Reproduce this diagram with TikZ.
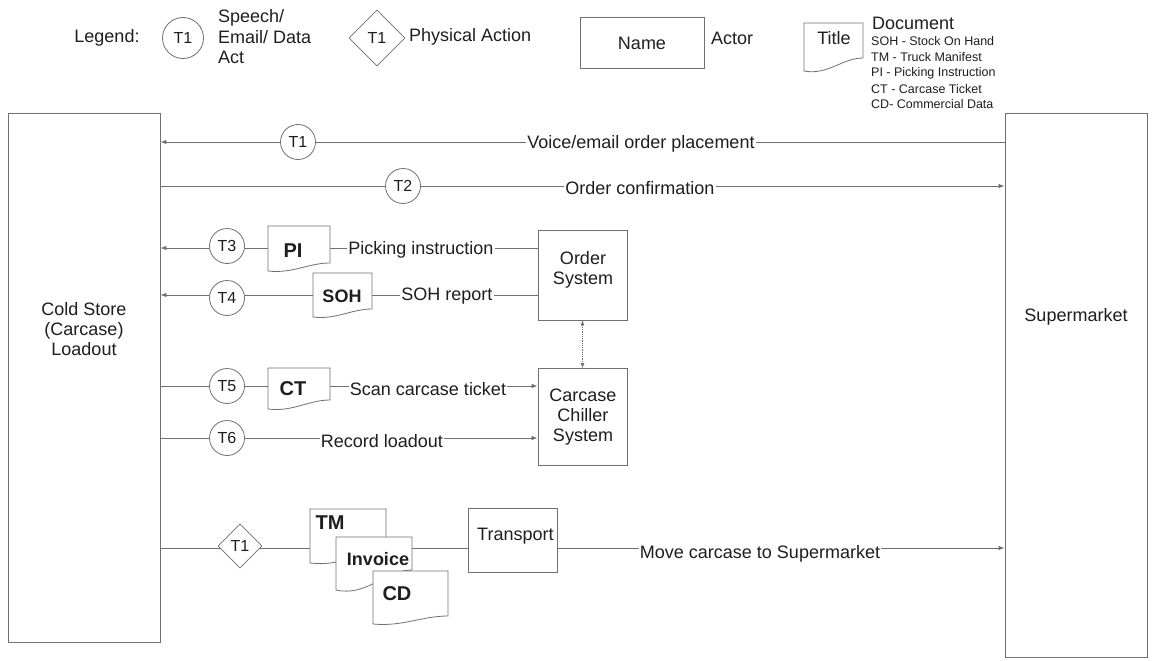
\documentclass[tikz,border=0pt]{standalone}
\usepackage{fontspec}
\setmainfont{Liberation Sans}
\usetikzlibrary{shapes.geometric,arrows.meta,calc}
\pgfdeclarelayer{background}
\pgfsetlayers{background,main}
\definecolor{ln}{HTML}{707070}
\definecolor{tx}{HTML}{1E1E1E}
\newcommand\docshape[5]{%
  \draw[docline] (#1,#2) -- (#3,#2) -- (#3,#4)
    .. controls ({#3-0.35*(#3-#1)},#4) and ({#1+0.4*(#3-#1)},{#5+0.35*(#5-#4)}) .. (#1,#5) -- cycle;}
\tikzset{
  lbl/.style={text=tx, inner sep=1pt, font=\fontsize{18}{20}\selectfont},
  onln/.style={lbl, fill=white, inner sep=1pt},
  actor/.style={draw=ln, line width=0.9pt, fill=white, inner sep=0},
  tcirc/.style={circle, draw=ln, line width=0.8pt, fill=white, minimum size=35, inner sep=0, text=tx, font=\fontsize{16}{18}\selectfont},
  tdiam/.style={diamond, aspect=1, draw=ln, line width=0.8pt, fill=white, minimum size=44, inner sep=0, text=tx, font=\fontsize{16}{18}\selectfont},
  docline/.style={draw=ln, line width=0.8pt, fill=white},
  doctext/.style={text=tx, inner sep=0, font=\fontsize{20}{22}\selectfont\bfseries},
  conn/.style={draw=ln, line width=0.8pt},
  tip/.style={-{Latex[length=6pt,width=4.5pt]}},
  small/.style={text=tx, inner sep=0, anchor=west, font=\fontsize{12.5}{14}\selectfont},
}
\begin{document}
\begin{tikzpicture}[x=1pt,y=-1pt]
\useasboundingbox (0,0) rectangle (1152,661);

% ---------- Legend ----------
\node[lbl] (leg) at (107,38) {Legend:};
\node[tcirc, minimum size=41] (lc) at (183,38) {T1};
\node[lbl, anchor=west, align=left, font=\fontsize{18}{20.5}\selectfont] (lct) at (217,37) {Speech/\\Email/ Data\\Act};
\node[tdiam, minimum size=56] (ld) at (377,38) {T1};
\node[lbl, anchor=west] (ldt) at (408,37) {Physical Action};
\node[actor, minimum width=124, minimum height=51] (lname) at (642,43) {};
\node[lbl] (lnamet) at (lname.center) {Name};
\node[lbl, anchor=west] (lactor) at (710,38) {Actor};
\docshape{804}{23}{863}{58}{71}
\node[lbl] (ltitle) at (834,38) {Title};
\node[lbl, anchor=west] (ldoc) at (871,23) {Document};
\node[small] (ls1) at (871,41) {SOH - Stock On Hand};
\node[small] (ls2) at (871,57) {TM - Truck Manifest};
\node[small] (ls3) at (871,73) {PI - Picking Instruction};
\node[small] (ls4) at (871,89) {CT - Carcase Ticket};
\node[small] (ls5) at (871,104) {CD- Commercial Data};

% ---------- Actors ----------
\node[actor, minimum width=152, minimum height=529] (cold) at (84,377.5) {};
\node[lbl, align=center] (coldt) at (84,329) {Cold Store\\(Carcase)\\Loadout};
\node[actor, minimum width=142, minimum height=544] (sup) at (1076,385) {};
\node[lbl] (supt) at (1076,317) {Supermarket};
\node[actor, minimum width=89, minimum height=90] (order) at (582.5,275) {};
\node[lbl, align=center] (ordert) at (583,270) {Order\\System};
\node[actor, minimum width=89, minimum height=97] (chill) at (582.5,417) {};
\node[lbl, align=center] (chillt) at (583,417) {Carcase\\Chiller\\System};
\node[actor, minimum width=89, minimum height=64] (trans) at (512.5,540) {};
\node[lbl, anchor=west] (transt) at (476,536) {Transport};

% ---------- Acts ----------
\node[tcirc] (t1) at (298,142) {T1};
\node[onln] (t1l) at (641,144) {Voice/email order placement};
\node[tcirc] (t2) at (403,186) {T2};
\node[onln] (t2l) at (640,188) {Order confirmation};
\node[tcirc] (t3) at (227,246) {T3};
\docshape{268}{226}{330}{263}{271}
\node[doctext] (pi) at (293,251) {PI};
\node[onln] (t3l) at (421,250) {Picking instruction};
\node[tcirc] (t4) at (227,298) {T4};
\docshape{313}{273}{372}{309}{317}
\node[doctext, font=\fontsize{18}{20}\selectfont\bfseries] (soh) at (342,296) {SOH};
\node[onln] (t4l) at (447,296) {SOH report};
\node[tcirc] (t5) at (227,386) {T5};
\docshape{268}{368}{330}{400}{409}
\node[doctext] (ct) at (293,389) {CT};
\node[onln] (t5l) at (428,389) {Scan carcase ticket};
\node[tcirc] (t6) at (227,438) {T6};
\node[onln] (t6l) at (382,441) {Record loadout};

\node[tdiam] (d1) at (240,546) {T1};
\docshape{310}{509}{386}{552}{563}
\node[doctext] (tm) at (330,523) {TM};
\docshape{336}{537}{412}{570}{590}
\node[doctext, font=\fontsize{18}{20}\selectfont\bfseries] (inv) at (378,559) {Invoice};
\docshape{373}{571}{448}{616}{624}
\node[doctext] (cd) at (397,594) {CD};
\node[onln] (mvl) at (760,554) {Move carcase to Supermarket};

% ---------- Connectors ----------
\begin{pgfonlayer}{background}
\draw[conn,tip] (sup.west |- t1) -- (cold.east |- t1);
\draw[conn,tip] (cold.east |- t2) -- (sup.west |- t2);
\draw[conn,tip] (order.west |- 0,248) -- (cold.east |- 0,248);
\draw[conn,tip] (order.west |- 0,295) -- (cold.east |- 0,295);
\draw[conn,tip] (cold.east |- t5) -- (chill.west |- t5);
\draw[conn,tip] (cold.east |- t6) -- (chill.west |- t6);
\draw[conn] (cold.east |- 0,548) -- (trans.west |- 0,548);
\draw[conn,tip] (trans.east |- 0,548) -- (sup.west |- 0,548);
\draw[conn, densely dotted, line width=0.6pt, {Latex[length=5pt,width=4pt]}-{Latex[length=5pt,width=4pt]}] (order.south) -- (chill.north);
\end{pgfonlayer}
\end{tikzpicture}
\end{document}
